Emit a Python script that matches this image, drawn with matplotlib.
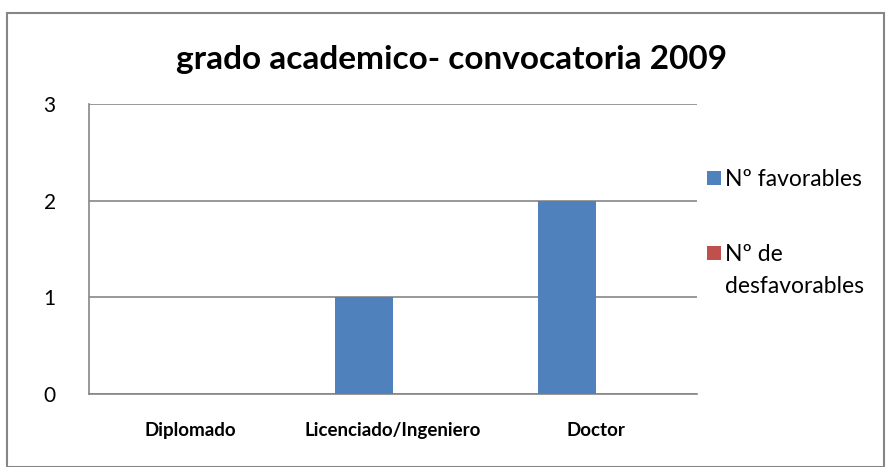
import matplotlib.pyplot as plt
import numpy as np
from matplotlib.patches import Rectangle

categories = ["Diplomado", "Licenciado/Ingeniero", "Doctor"]
favorables = [0, 1, 2]
desfavorables = [0, 0, 0]
series_names = ["Nº favorables", "Nº de", "desfavorables"]
yticks = [0, 1, 2, 3]

plt.rcParams['font.family'] = ['Lato', 'DejaVu Sans']

fig = plt.figure(figsize=(8.87, 4.67), dpi=100)
W, H = 887, 467
ax = fig.add_axes([89 / W, 1 - 394 / H, (697 - 89) / W, (394 - 104) / H])

x = np.arange(len(categories))
bw = 0.285
b1 = ax.bar(x - bw / 2, favorables, bw, color="#4f81bd", label=series_names[0], zorder=3)
b2 = ax.bar(x + bw / 2, desfavorables, bw, color="#c0504d", label=series_names[1], zorder=3)

ax.set_xlim(-0.5, len(categories) - 0.5)
ax.set_ylim(0, 3)
ax.set_yticks(yticks)
ax.set_yticklabels([str(v) for v in yticks], fontsize=15)
ax.set_xticks(x)
ax.set_xticklabels(categories, fontsize=13.5, fontweight="bold")
ax.tick_params(axis="both", length=0)
ax.tick_params(axis="y", pad=24)
ax.tick_params(axis="x", pad=20)
ax.yaxis.grid(True, color="#868686", linewidth=1.2, zorder=0)
for s in ["top", "right"]:
    ax.spines[s].set_visible(False)
for s in ["left", "bottom"]:
    ax.spines[s].set_color("#868686")
    ax.spines[s].set_linewidth(1.2)

fig.text(452 / W, 1 - 60 / H, "grado academico- convocatoria 2009",
         ha="center", va="center", fontsize=24, fontweight="bold")

leg = fig.legend(handles=[b1, b2], loc="upper left", bbox_to_anchor=(707 / W, 1 - 169 / H),
                 frameon=False, fontsize=16.5, handlelength=0.6, handleheight=0.6,
                 handletextpad=0.2, labelspacing=2.35, borderpad=0, borderaxespad=0)

# second line of the red entry, placed under its label
fig.canvas.draw()
bb = leg.get_texts()[1].get_window_extent()
fig.text(bb.x0 / W, (bb.y0 - 32 + bb.height / 2) / H, series_names[2],
         fontsize=16.5, ha="left", va="center")

fig.patches.append(Rectangle((7 / W, 0), (884 - 7) / W, 1 - 13 / H, transform=fig.transFigure,
                             fill=False, edgecolor="#868686", linewidth=1.5))

fig.savefig("out.png", dpi=100)
